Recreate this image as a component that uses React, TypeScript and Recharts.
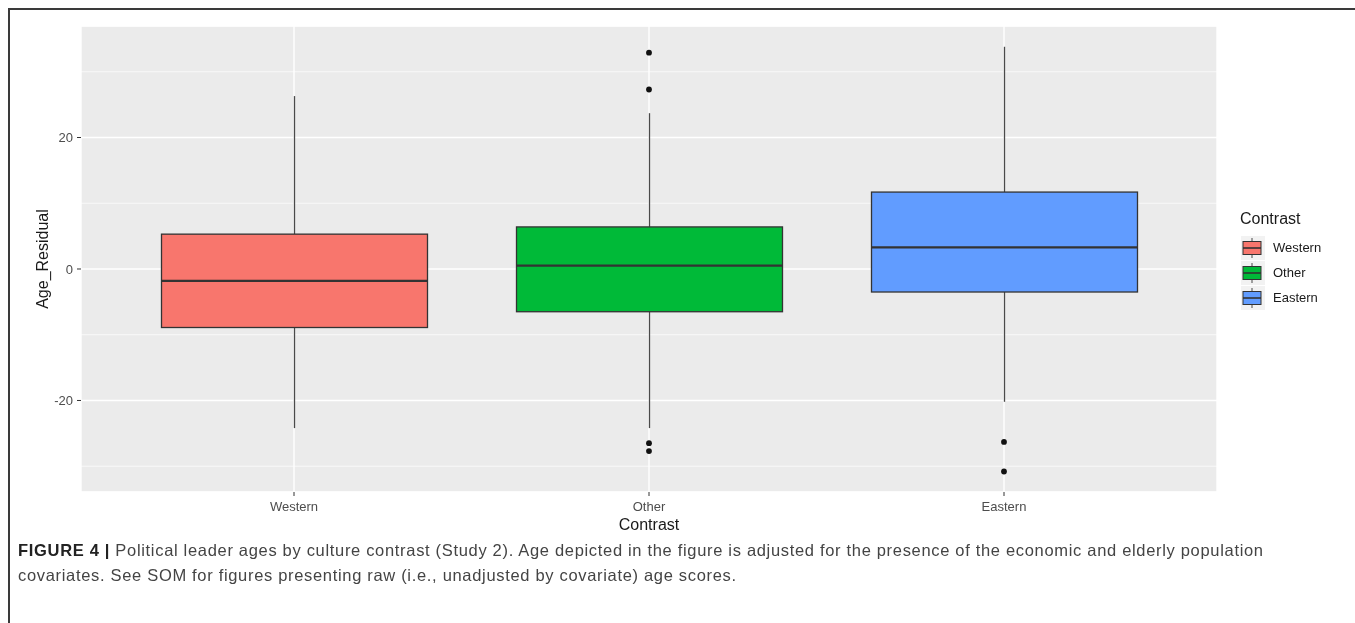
import { ComposedChart, Bar, Scatter, XAxis, YAxis, CartesianGrid } from "recharts"

const CATEGORIES = ["Western", "Other", "Eastern"]
const COLORS = ["#F8766D", "#00BA38", "#619CFF"]
const WHISKER_LOW = [-24.2, -24.2, -20.2]
const Q1 = [-8.9, -6.5, -3.5]
const MEDIAN = [-1.8, 0.5, 3.3]
const Q3 = [5.3, 6.4, 11.7]
const WHISKER_HIGH = [26.3, 23.7, 33.8]
const OUTLIERS = [[], [32.9, 27.3, -26.5, -27.7], [-26.3, -30.8]]
const Y_TICKS = [-20, 0, 20]
const Y_MINOR = [-30, -10, 10, 30]
const Y_DOMAIN = [-33.92, 36.96]

const boxData = CATEGORIES.map((name, i) => ({
  x: i + 1,
  name,
  box: [Q1[i], Q3[i]],
  q1: Q1[i],
  q3: Q3[i],
  lo: WHISKER_LOW[i],
  hi: WHISKER_HIGH[i],
  med: MEDIAN[i],
  fill: COLORS[i],
}))

const outlierData = OUTLIERS.flatMap((vals, i) => vals.map(v => ({ x: i + 1, y: v })))

const FONT = '"Liberation Sans", Arial, Helvetica, sans-serif'
const EDGE = "#333333"

// box + whiskers + median, mapped with the bar's own pixel scale
const BoxShape = (props: any) => {
  const { x, y, width, height, payload } = props
  if (payload == null) return null
  const top = Math.min(y, y + height)
  const h = Math.abs(height)
  const ppu = h / (payload.q3 - payload.q1)
  const toY = (v: number) => top + (payload.q3 - v) * ppu
  const cx = x + width / 2
  const my = toY(payload.med)
  return (
    <g>
      <line x1={cx} x2={cx} y1={toY(payload.hi)} y2={top} stroke="#4a4a4a" strokeWidth={1.3} />
      <line x1={cx} x2={cx} y1={top + h} y2={toY(payload.lo)} stroke="#4a4a4a" strokeWidth={1.3} />
      <rect x={x} y={top} width={width} height={h} fill={payload.fill} stroke={EDGE} strokeWidth={1.3} />
      <line x1={x} x2={x + width} y1={my} y2={my} stroke={EDGE} strokeWidth={2.3} />
    </g>
  )
}

const OutlierDot = (props: any) => {
  const { cx, cy } = props
  return <circle cx={cx} cy={cy} r={2.9} fill="#111" />
}

const YTitle = (props: any) => {
  const vb = props.viewBox || { x: 0, y: 18, width: 73, height: 466 }
  const cx = vb.x + 34.5
  const cy = vb.y + vb.height / 2
  return (
    <text
      x={cx}
      y={cy}
      transform={`rotate(-90 ${cx} ${cy})`}
      textAnchor="middle"
      dominantBaseline="central"
      fill="#1a1a1a"
      fontSize={16}
      fontFamily={FONT}
    >
      Age_Residual
    </text>
  )
}

const LegendKey = ({ color }: { color: string }) => (
  <svg width={24} height={24} style={{ display: "block" }}>
    <rect x={0} y={0} width={24} height={24} fill="#F2F2F2" />
    <line x1={11} x2={11} y1={2} y2={22} stroke="#4a4a4a" strokeWidth={1} />
    <rect x={2} y={5.5} width={18} height={13} fill={color} stroke={EDGE} strokeWidth={1} />
    <line x1={2} x2={20} y1={12} y2={12} stroke={EDGE} strokeWidth={1.6} />
  </svg>
)

export default function App() {
  return (
    <div style={{ position: "relative", width: 1339, height: 600, fontFamily: FONT }}>
      <div
        style={{
          position: "fixed",
          left: 8,
          top: 8,
          right: 0,
          bottom: 0,
          borderTop: "2px solid #3a3a3a",
          borderLeft: "2px solid #3a3a3a",
          pointerEvents: "none",
        }}
      />
      <div style={{ position: "absolute", left: 0, top: 0 }}>
        <ComposedChart
          width={1339}
          height={540}
          data={boxData}
          margin={{ top: 18, right: 130, bottom: 0, left: 0 }}
          style={{ fontFamily: FONT }}
        >
          <CartesianGrid fill="#EBEBEB" stroke="#FFFFFF" strokeWidth={1.4} yAxisId="main" />
          <CartesianGrid stroke="#FFFFFF" strokeWidth={0.7} vertical={false} yAxisId="minor" />
          <XAxis
            type="number"
            dataKey="x"
            domain={[0.4, 3.6]}
            ticks={[1, 2, 3]}
            allowDataOverflow
            interval={0}
            tickFormatter={(v: number) => CATEGORIES[v - 1] ?? ""}
            axisLine={false}
            tickLine={{ stroke: EDGE }}
            tickSize={4}
            tickMargin={6}
            tick={{ fill: "#4D4D4D", fontSize: 13 }}
            height={56}
            label={{ value: "Contrast", position: "insideBottom", offset: 18, fill: "#1a1a1a", fontSize: 16 }}
          />
          <YAxis
            yAxisId="main"
            type="number"
            domain={Y_DOMAIN}
            ticks={Y_TICKS}
            allowDataOverflow
            interval={0}
            axisLine={false}
            tickLine={{ stroke: EDGE }}
            tickSize={4}
            tickMargin={4}
            tick={{ fill: "#4D4D4D", fontSize: 13 }}
            width={73}
            label={{ value: "Age_Residual", content: YTitle }}
          />
          <YAxis yAxisId="minor" type="number" domain={Y_DOMAIN} ticks={Y_MINOR} allowDataOverflow hide />
          <Bar
            yAxisId="main"
            dataKey="box"
            barSize={266}
            shape={BoxShape}
            isAnimationActive={false}
          />
          <Scatter
            yAxisId="main"
            data={outlierData}
            dataKey="y"
            shape={OutlierDot}
            isAnimationActive={false}
          />
        </ComposedChart>
      </div>

      <div style={{ position: "absolute", left: 1232, top: 200 }}>
        <div style={{ fontSize: 16, color: "#1a1a1a", lineHeight: "22px", marginBottom: 5 }}>Contrast</div>
        {CATEGORIES.map((c, i) => (
          <div key={c} style={{ display: "flex", alignItems: "center", height: 25, marginLeft: 1 }}>
            <LegendKey color={COLORS[i]} />
            <span style={{ fontSize: 13, color: "#1a1a1a", marginLeft: 8 }}>{c}</span>
          </div>
        ))}
      </div>

      <div
        style={{
          position: "absolute",
          left: 10,
          top: 530,
          fontSize: 16.5,
          letterSpacing: 0.68,
          lineHeight: "25px",
          color: "#444",
          whiteSpace: "nowrap",
        }}
      >
        <div>
          <b style={{ color: "#222" }}>FIGURE 4 |</b> Political leader ages by culture contrast (Study 2). Age depicted in the figure is
          adjusted for the presence of the economic and elderly population
        </div>
        <div>covariates. See SOM for figures presenting raw (i.e., unadjusted by covariate) age scores.</div>
      </div>
    </div>
  )
}
